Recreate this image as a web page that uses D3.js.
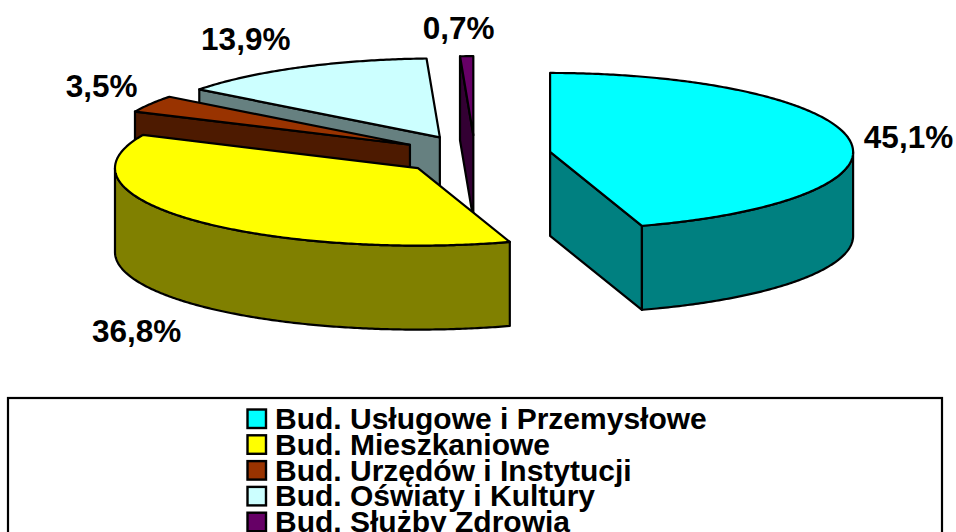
<!DOCTYPE html>
<html>
<head>
<meta charset="utf-8">
<script src="https://cdn.jsdelivr.net/npm/d3@7"></script>
<style>
  html, body { margin: 0; padding: 0; background: #fff; overflow: hidden; }
  text { font-family: "Liberation Sans", Arial, sans-serif; font-weight: bold; fill: #000; }
</style>
</head>
<body>
<script>
const categories = [
    "Bud. Usługowe i Przemysłowe",
    "Bud. Mieszkaniowe",
    "Bud. Urzędów i Instytucji",
    "Bud. Oświaty i Kultury",
    "Bud. Służby Zdrowia"
];
const shares = [45.1, 36.8, 3.5, 13.9, 0.7];
const shareLabels = ["45,1%", "36,8%", "3,5%", "13,9%", "0,7%"];
const topColors = ["#00ffff", "#ffff00", "#993300", "#ccffff", "#660066"];
const wallColors = ["#008080", "#808000", "#4d1a00", "#668080", "#330033"];

const width = 956;
const height = 532;

// pie geometry, the front half of the ellipse is a little flatter than the back
const center = {x: 475, y: 155};
const rx = 303;
const ryBack = 79;
const ryFront = 77.5;
const explode = 76;
const depth = 84;

// label nudges from the rim at the slice's middle angle
const labelNudge = [[59, 8], [-54, 123], [-49, -7], [-54, -17], [-8, -17]];

const legend = {x: 8, y: 398, right: 942, swatchX: 247.5, swatchSize: 18.5, firstY: 409.5, step: 25.8, textX: 275, fontSize: 30};

const svg = d3.select("body").append("svg")
    .attr("width", width)
    .attr("height", height)
    .style("display", "block");

const slices = d3.pie().sort(null)(shares).map((d, i) => {
    const mid = (d.startAngle + d.endAngle) / 2;
    return {
        ...d,
        i,
        mid,
        cx: center.x + explode * Math.sin(mid),
        cy: center.y - explode * (ryBack / rx) * Math.cos(mid)
    };
});

const rim = (s, a, drop = 0) => {
    const ry = Math.cos(a) < 0 ? ryFront : ryBack;
    return [s.cx + rx * Math.sin(a), s.cy - ry * Math.cos(a) + drop];
};

const anglesBetween = (a0, a1) => d3.range(a0, a1, 0.01).concat([a1]);
const line = d3.line();

function topPath(s) {
    return line([[s.cx, s.cy], ...anglesBetween(s.startAngle, s.endAngle).map(a => rim(s, a))]) + "Z";
}

function radialWall(s, a) {
    return line([[s.cx, s.cy], rim(s, a), rim(s, a, depth), [s.cx, s.cy + depth]]) + "Z";
}

// outer wall shows only on the front half of the ellipse
function outerWall(s) {
    const a0 = Math.max(s.startAngle, Math.PI / 2);
    const a1 = Math.min(s.endAngle, Math.PI * 3 / 2);
    if (a0 >= a1) return null;
    const angles = anglesBetween(a0, a1);
    return line([
        ...angles.map(a => rim(s, a)),
        ...angles.slice().reverse().map(a => rim(s, a, depth))
    ]) + "Z";
}

const drawOrder = [4, 3, 2, 1, 0];
const pieGroup = svg.append("g")
    .attr("stroke", "#000")
    .attr("stroke-width", 2.2)
    .attr("stroke-linejoin", "round");

drawOrder.forEach(i => {
    const s = slices[i];
    const g = pieGroup.append("g");
    if (Math.sin(s.startAngle) < -1e-6) {
        g.append("path").attr("d", radialWall(s, s.startAngle)).attr("fill", wallColors[i]);
    }
    if (Math.sin(s.endAngle) > 1e-6) {
        g.append("path").attr("d", radialWall(s, s.endAngle)).attr("fill", wallColors[i]);
    }
    const wall = outerWall(s);
    if (wall) g.append("path").attr("d", wall).attr("fill", wallColors[i]);
    g.append("path").attr("d", topPath(s)).attr("fill", topColors[i]);
});

svg.append("g").selectAll("text")
    .data(slices)
    .join("text")
    .attr("x", d => rim(d, d.mid)[0] + labelNudge[d.i][0])
    .attr("y", d => rim(d, d.mid)[1] + labelNudge[d.i][1])
    .attr("text-anchor", "middle")
    .style("font-size", "31.5px")
    .text(d => shareLabels[d.i]);

// legend box runs off the bottom of the picture
svg.append("rect")
    .attr("x", legend.x)
    .attr("y", legend.y)
    .attr("width", legend.right - legend.x)
    .attr("height", height)
    .attr("fill", "#fff")
    .attr("stroke", "#000")
    .attr("stroke-width", 2.2);

const legendRows = svg.append("g").selectAll("g")
    .data(categories)
    .join("g")
    .attr("transform", (d, i) => `translate(0,${legend.firstY + i * legend.step})`);

legendRows.append("rect")
    .attr("x", legend.swatchX)
    .attr("width", legend.swatchSize)
    .attr("height", legend.swatchSize)
    .attr("fill", (d, i) => topColors[i])
    .attr("stroke", "#000")
    .attr("stroke-width", 2.4);

legendRows.append("text")
    .attr("x", legend.textX)
    .attr("y", legend.swatchSize + 1)
    .style("font-size", legend.fontSize + "px")
    .text(d => d);
</script>
</body>
</html>
